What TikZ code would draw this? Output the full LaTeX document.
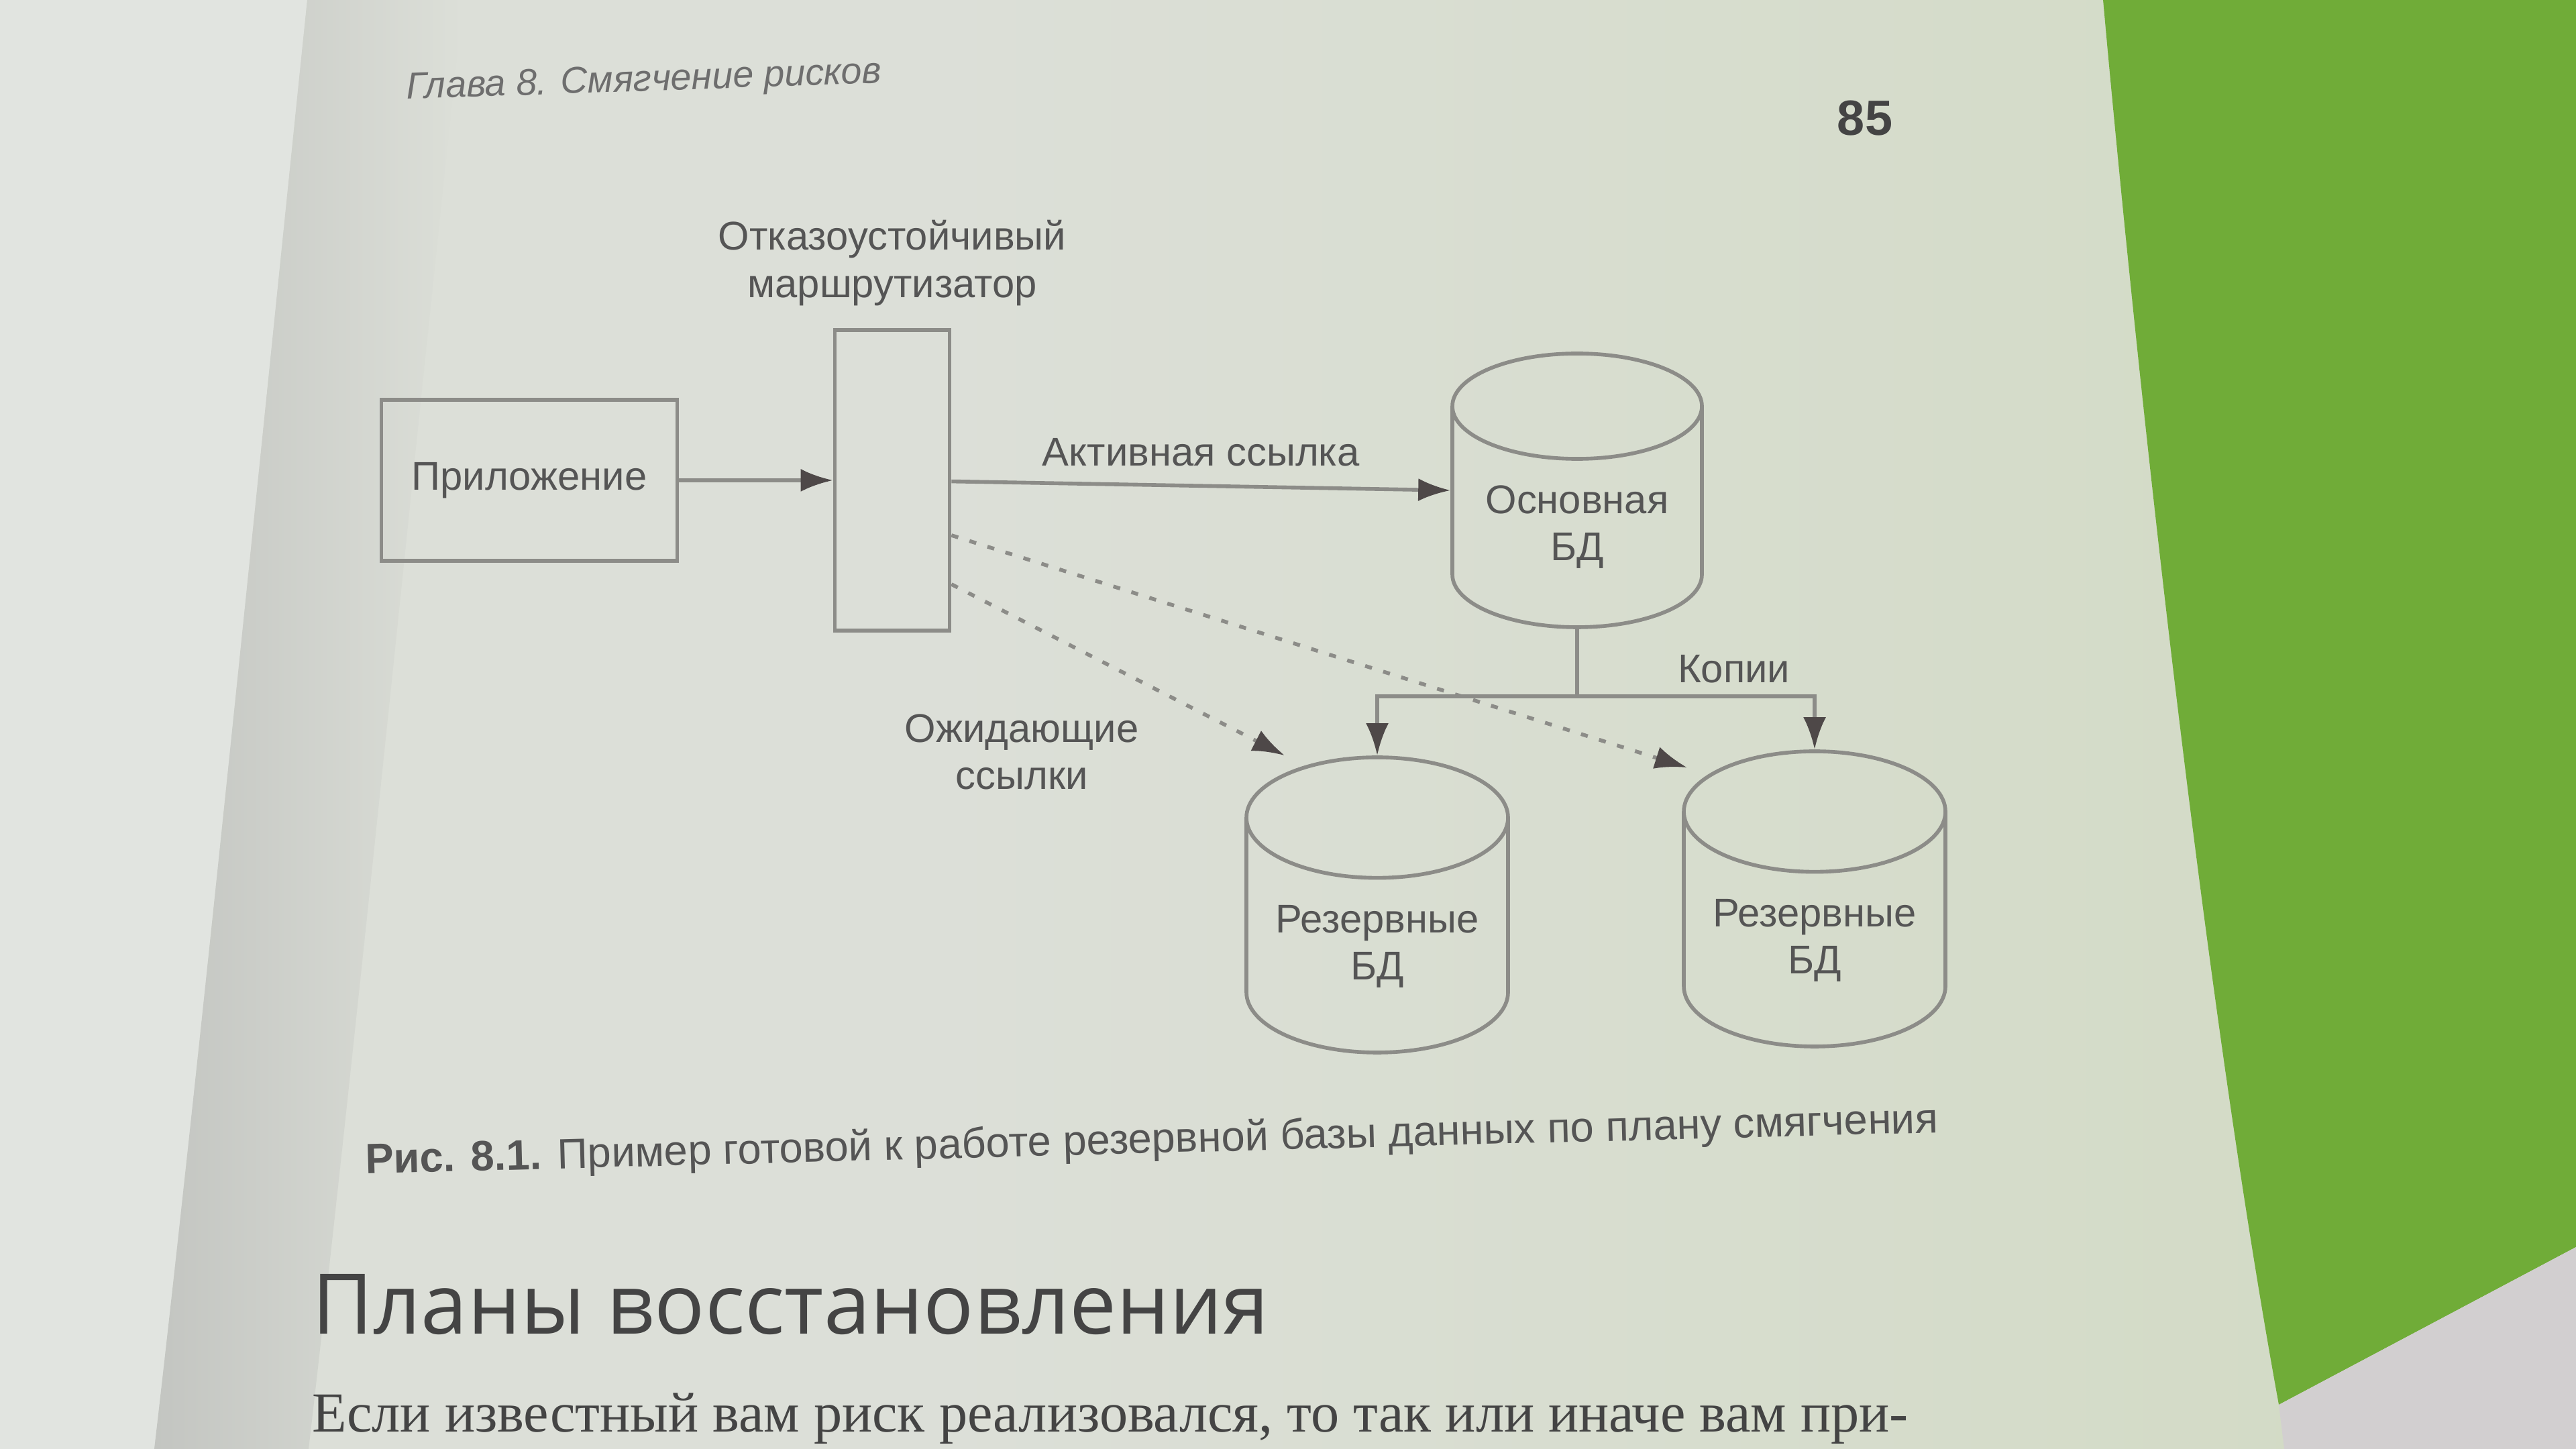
\documentclass[tikz,border=0pt]{standalone}
\usepackage{fontspec}
\setmainfont{Liberation Sans}
\newfontfamily\headfont{Open Sans}
\newfontfamily\bodyfont{Liberation Serif}
\usepackage{tikz}
\usetikzlibrary{shapes.geometric}
\usetikzlibrary{positioning}
\usetikzlibrary{arrows.meta}
\definecolor{paper}{HTML}{DCDFD8}
\definecolor{papergreen}{HTML}{D3DBC6}
\definecolor{leftpage}{HTML}{E1E4E0}
\definecolor{gutter}{HTML}{C3C5C1}
\definecolor{leaf}{HTML}{70AC38}
\definecolor{floor}{HTML}{D2CFD0}
\definecolor{ink}{HTML}{555555}
\definecolor{wire}{HTML}{8C8C88}
\definecolor{tipgray}{HTML}{4E4848}
\tikzstyle{block} = [rectangle, draw=wire, line width=1.6pt, text=ink, text centered]
\tikzstyle{db} = [cylinder, shape border rotate=90, aspect=0.53, draw=wire, line width=1.6pt, text=ink, align=center]
\tikzstyle{lbl} = [text=ink, align=center]
\tikzstyle{wireline} = [draw=wire, line width=1.6pt]
\tikzstyle{link} = [wireline, -{Latex[length=0.48cm,width=0.34cm,color=tipgray]}]
\tikzstyle{wait} = [link, dash pattern=on 3pt off 5pt]

\begin{document}
\begin{tikzpicture}[node distance=1cm, font=\fontsize{17pt}{20pt}\selectfont]
            % page and background
            \useasboundingbox (0,0) rectangle (38.4,21.6);
            \fill[paper] (0,0) rectangle (38.4,21.6);
            \shade[left color=paper, right color=papergreen] (14,0) rectangle (34.5,21.6);
            \fill[leftpage] (0,21.6) -- (4.58,21.6) .. controls (4.0,16) and (3.0,6) .. (2.30,0) -- (0,0) -- cycle;
            \shade[left color=gutter, right color=paper] (4.58,21.6) .. controls (4.0,16) and (3.0,6) .. (2.30,0) -- (4.6,0) .. controls (5.3,6) and (6.3,16) .. (6.9,21.6) -- cycle;
            \fill[leaf] (31.35,21.6) .. controls (31.9,15.5) and (32.9,6.5) .. (33.97,0.66) -- (38.4,3.01) -- (38.4,21.6) -- cycle;
            \fill[floor] (33.97,0.66) -- (38.4,3.01) -- (38.4,0) -- (34.05,0) -- cycle;

            % page texts
            \node (header) [text=ink!85, rotate=2, font=\fontsize{15.8pt}{18pt}\selectfont\itshape] at (9.60,20.38) {Глава 8. Смягчение рисков};
            \node (pagenum) [text=ink!110, font=\fontsize{21pt}{24pt}\selectfont\bfseries] at (27.80,19.84) {85};

            % diagram
            \node (app) [block, minimum width=4.41cm, minimum height=2.4cm] at (7.89,14.44) {Приложение};
            \node (router) [block, right of=app, xshift=4.41cm, minimum width=1.71cm, minimum height=4.48cm] {};
            \node (routerlbl) [lbl, above of=router, yshift=2.24cm] {Отказоустойчивый\\маршрутизатор};
            \node (maindb) [db, minimum width=3.72cm, minimum height=4.08cm, anchor=shape center] at (23.51,14.29) {Основная\\БД};
            \node (spare1) [db, aspect=0.55, minimum width=3.9cm, minimum height=4.4cm, anchor=shape center] at (20.53,8.11) {Резервные\\БД};
            \node (spare2) [db, aspect=0.55, minimum width=3.9cm, minimum height=4.4cm, anchor=shape center] at (27.05,8.2) {Резервные\\БД};
            \node (waitlbl) [lbl, below of=router, xshift=1.93cm, yshift=-3.05cm] {Ожидающие\\ссылки};
            \coordinate (split) at ([yshift=-1cm]maindb.bottom);

            \draw[link] (app) -- (router);
            \draw[link] (router) -- node (activelbl) [lbl, above, yshift=0.15cm] {Активная ссылка} (maindb.shape center -| maindb.west);
            \draw[wait] ([yshift=-0.82cm]router.east) -- ([xshift=-1.9cm,yshift=-0.27cm]spare2.top);
            \draw[wait] ([yshift=-1.55cm]router.east) -- ([xshift=-1.38cm]spare1.top);
            \draw[wireline] (maindb.bottom) -- (split);
            \draw[link] (split) -| (spare1.top);
            \draw[link] (split) -| node (copylbl) [lbl, pos=0.33, above, yshift=0.05cm] {Копии} (spare2.top);

            % caption and following text
            \node (caption) [text=ink, rotate=1.5, font=\fontsize{18pt}{21pt}\selectfont] at (17.17,4.58) {\textbf{Рис. 8.1.} Пример готовой к работе резервной базы данных по плану смягчения};
            \node (heading) [text=ink!110, inner sep=0pt, anchor=base west, font=\headfont\fontsize{35.5pt}{40pt}\selectfont] at (4.65,1.71) {Планы восстановления};
            \node (bodyline) [text=ink!110, inner sep=0pt, anchor=base west, font=\bodyfont\fontsize{24pt}{28pt}\selectfont] at (4.65,0.25) {Если известный вам риск реализовался, то так или иначе вам при-};
        \end{tikzpicture}
\end{document}
